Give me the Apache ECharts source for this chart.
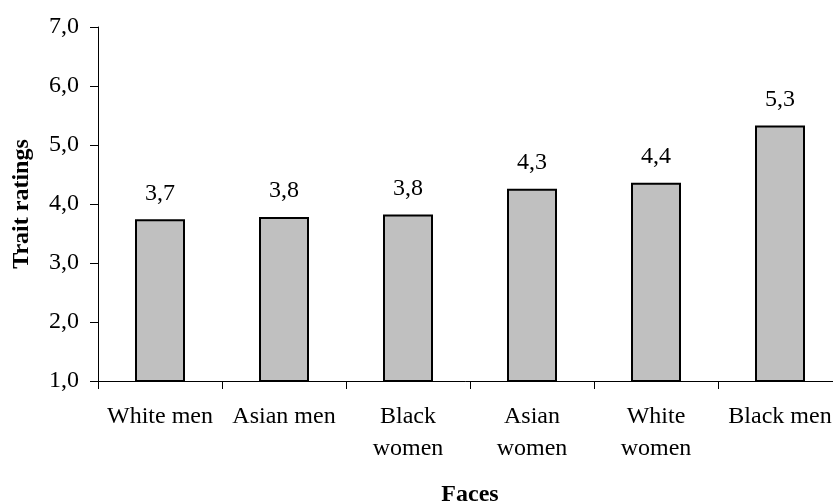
<!DOCTYPE html>
<html>
<head>
<meta charset="utf-8">
<script src="https://cdn.jsdelivr.net/npm/echarts@6/dist/echarts.min.js"></script>
<style>
  html, body { margin: 0; padding: 0; background: #fff; }
  #chart { width: 833px; height: 502px; }
</style>
</head>
<body>
<div id="chart"></div>
<script>
// Mean trait ratings per face group
const categories = ['White men', 'Asian men', 'Black\nwomen', 'Asian\nwomen', 'White\nwomen', 'Black men'];
const ratings = [3.74, 3.78, 3.82, 4.26, 4.36, 5.33];
const yTicks = [1, 2, 3, 4, 5, 6, 7];

const FONT = "'Liberation Serif', 'Times New Roman', serif";
const fmt = v => Number(v).toFixed(1).replace('.', ',');

const chart = echarts.init(document.getElementById('chart'), null, { renderer: 'canvas' });
chart.setOption({
  animation: false,
  backgroundColor: '#ffffff',
  textStyle: { fontFamily: FONT, color: '#000' },
  grid: { left: 98, right: -9, top: 27, bottom: 121, containLabel: false, outerBoundsMode: 'none' },
  xAxis: {
    type: 'category',
    data: categories,
    name: 'Faces',
    nameLocation: 'middle',
    nameGap: 102,
    nameTextStyle: { fontFamily: FONT, fontSize: 24, fontWeight: 'bold', color: '#000' },
    axisLine: { lineStyle: { color: '#000', width: 1 } },
    axisTick: { show: true, length: 8, lineStyle: { color: '#000' } },
    axisLabel: {
      interval: 0, margin: 20, fontFamily: FONT, fontSize: 24, color: '#000',
      lineHeight: 32, align: 'center'
    }
  },
  yAxis: {
    type: 'value',
    min: yTicks[0],
    max: yTicks[yTicks.length - 1],
    interval: 1,
    name: 'Trait ratings',
    nameLocation: 'middle',
    nameGap: 64,
    nameRotate: 90,
    nameTextStyle: { fontFamily: FONT, fontSize: 24, fontWeight: 'bold', color: '#000' },
    splitLine: { show: false },
    axisLine: { show: true, lineStyle: { color: '#000', width: 1 } },
    axisTick: { show: true, length: 8, lineStyle: { color: '#000' } },
    axisLabel: { margin: 19, fontFamily: FONT, fontSize: 24, color: '#000', formatter: fmt }
  },
  series: [{
    type: 'bar',
    data: ratings,
    barWidth: 50,
    itemStyle: { color: '#c0c0c0', borderColor: '#000', borderWidth: 2 },
    label: {
      show: true, position: 'top', distance: 14,
      fontFamily: FONT, fontSize: 24, color: '#000',
      formatter: p => fmt(p.value)
    }
  }]
});
</script>
</body>
</html>
